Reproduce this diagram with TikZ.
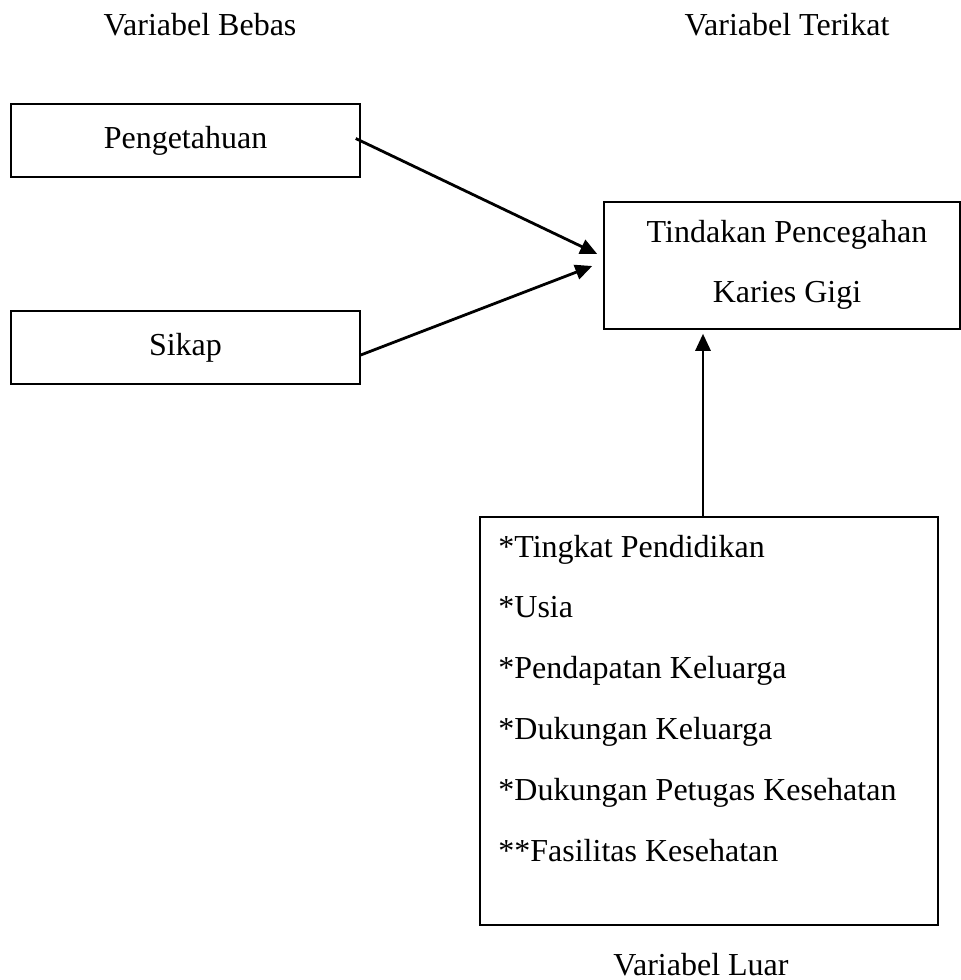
\documentclass[tikz,border=0pt]{standalone}
\usepackage{fontspec}
\setmainfont{Liberation Serif}
\usetikzlibrary{arrows.meta}
\tikzset{
  box/.style={draw, line width=0.75pt, inner sep=0pt, align=center},
  conn/.style={line width=1.4pt, -{Triangle[length=8.5pt,width=7.5pt]}},
  txt/.style={font=\fontsize{16}{30}\selectfont},
  item/.style={font=\fontsize{16}{19}\selectfont, anchor=base west, inner sep=0pt}
}
\begin{document}
\begin{tikzpicture}[x=0.5pt,y=-0.5pt]
\useasboundingbox (0,0) rectangle (961,980);
\node[txt, anchor=base] (vb) at (200,35) {Variabel Bebas};
\node[txt, anchor=base] (vt) at (787,35) {Variabel Terikat};
\node[box, txt, minimum width=174.5pt, minimum height=36.5pt] (p) at (185.5,140.5) {Pengetahuan};
\node[box, txt, minimum width=174.5pt, minimum height=36.5pt] (s) at (185.5,347.5) {Sikap};
\node[box, minimum width=178pt, minimum height=63.5pt] (t) at (782,265.5) {};
\node[txt, align=center, anchor=base, inner sep=0pt] (tt) at (787,302) {Tindakan Pencegahan\\Karies Gigi};
\node[box, minimum width=229pt, minimum height=204pt] (l) at (709,721) {};
\foreach \i/\s in {0/*Tingkat Pendidikan, 1/*Usia, 2/*Pendapatan Keluarga, 3/*Dukungan Keluarga, 4/*Dukungan Petugas Kesehatan, 5/**Fasilitas Kesehatan}
  \node[item] (li\i) at (498,{557+60.9*\i}) {\s};
\node[txt, anchor=base] (vl) at (701,975) {Variabel Luar};
\draw[conn] ([shift={(-5,-2)}]p.east) -- ([shift={(-6,-11.5)}]t.west);
\draw[conn] ([shift={(0,7.5)}]s.east) -- ([shift={(-11,0.5)}]t.west);
\draw[conn] ([shift={(-6,0)}]l.north) -- ([shift={(-6,4)}]l.north |- t.south);
\end{tikzpicture}
\end{document}
